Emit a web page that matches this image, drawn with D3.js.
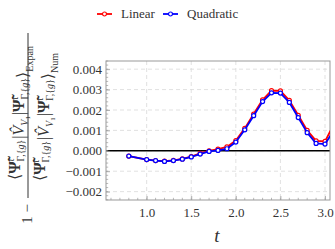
<!DOCTYPE html>
<html>
<head>
<meta charset="utf-8">
<script src="https://cdn.jsdelivr.net/npm/d3@7"></script>
<style>
  body { margin: 0; background: #fff; }
  svg { display: block; }
  svg text { font-family: "Liberation Serif", "Times New Roman", Tinos, "DejaVu Serif", "Noto Serif", serif !important; }
</style>
</head>
<body>
<svg id="chart" width="335" height="249"></svg>
<script>
// data
const tValues = [0.8, 1.0, 1.1, 1.2, 1.3, 1.4, 1.5, 1.6, 1.7, 1.8, 1.9, 2.0, 2.1, 2.2, 2.3, 2.4, 2.5, 2.6, 2.7, 2.8, 2.9, 3.0, 3.1]
const linearValues = [-0.00026, -0.00043, -0.00048, -0.00051, -0.00047, -0.0004, -0.00028, -0.00013, 0.0, 0.00008, 0.00019, 0.00050, 0.00110, 0.00180, 0.00250, 0.00295, 0.00294, 0.00247, 0.00174, 0.00100, 0.00049, 0.00046, 0.0013]
const quadraticValues = [-0.00026, -0.00043, -0.00048, -0.00052, -0.00048, -0.00041, -0.0003, -0.00016, -0.00003, 0.00002, 0.0001, 0.00043, 0.00103, 0.00172, 0.00241, 0.00284, 0.00283, 0.00237, 0.00163, 0.00089, 0.00036, 0.00033, 0.0010]
const xTicks = [1.0, 1.5, 2.0, 2.5, 3.0]
const yTicks = [-0.002, -0.001, 0.000, 0.001, 0.002, 0.003, 0.004]
const seriesNames = ['Linear', 'Quadratic']
const seriesColors = ['#ff0000', '#0000ff']

//chart globals
const margin = { top: 61, right: 5, bottom: 49, left: 106 }
const width = 335 - margin.left - margin.right
const height = 249 - margin.top - margin.bottom
const svg = d3.select('#chart')

const g = svg.append('g')
    .attr('transform', `translate(${margin.left}, ${margin.top})`)

//scales
const x = d3.scaleLinear()
    .domain([0.544, 3.056])
    .range([0, width])

const y = d3.scaleLinear()
    .domain([-0.00241, 0.0044])
    .range([height, 0])

//clip for lines leaving the frame
svg.append('defs').append('clipPath')
    .attr('id', 'clip')
    .append('rect')
    .attr('width', width)
    .attr('height', height)

//grid lines
g.append('g')
    .selectAll('line')
    .data(xTicks)
    .enter().append('line')
    .attr('x1', d => x(d)).attr('x2', d => x(d))
    .attr('y1', 0).attr('y2', height)
    .attr('stroke', '#d9d9d9')
    .attr('stroke-width', 0.8)
    .attr('stroke-dasharray', '4,3')

g.append('g')
    .selectAll('line')
    .data(yTicks)
    .enter().append('line')
    .attr('x1', 0).attr('x2', width)
    .attr('y1', d => y(d)).attr('y2', d => y(d))
    .attr('stroke', '#d9d9d9')
    .attr('stroke-width', 0.8)
    .attr('stroke-dasharray', '4,3')

//zero line
g.append('line')
    .attr('x1', 0).attr('x2', width)
    .attr('y1', y(0)).attr('y2', y(0))
    .attr('stroke', '#000')
    .attr('stroke-width', 1.6)

//axes (mathematica style inward ticks)
const minorX = d3.range(0.6, 3.05, 0.1)
const minorY = d3.range(-0.0024, 0.00441, 0.0002)

const xAxisCall = d3.axisBottom(x)
    .tickValues(xTicks)
    .tickFormat(d3.format('.1f'))
    .tickSize(-4)
    .tickPadding(8)

const yAxisCall = d3.axisLeft(y)
    .tickValues(yTicks)
    .tickFormat(d => d3.format('.3f')(d).replace('-', '\u2212'))
    .tickSize(-4)
    .tickPadding(4)

const xAxisGroup = g.append('g')
    .attr('class', 'x-axis')
    .attr('transform', `translate(0, ${height})`)
    .call(xAxisCall)

const yAxisGroup = g.append('g')
    .attr('class', 'y-axis')
    .call(yAxisCall)

xAxisGroup.append('g').selectAll('line')
    .data(minorX)
    .enter().append('line')
    .attr('x1', d => x(d)).attr('x2', d => x(d))
    .attr('y1', 0).attr('y2', -2.2)

yAxisGroup.append('g').selectAll('line')
    .data(minorY)
    .enter().append('line')
    .attr('y1', d => y(d)).attr('y2', d => y(d))
    .attr('x1', 0).attr('x2', 2.2)

svg.selectAll('.x-axis, .y-axis').attr('font-family', null)
svg.selectAll('.x-axis line, .y-axis line').attr('stroke', '#999').attr('stroke-width', 0.7)
svg.selectAll('.x-axis path, .y-axis path').remove()
svg.selectAll('.x-axis text, .y-axis text')
    .attr('font-size', '13px')
    .attr('fill', '#333')

//frame
g.append('rect')
    .attr('width', width)
    .attr('height', height)
    .attr('fill', 'none')
    .attr('stroke', '#999')
    .attr('stroke-width', 1)

//series
const allSeries = [linearValues, quadraticValues]

const line = d3.line()
    .x((d, i) => x(tValues[i]))
    .y(d => y(d))

const plot = g.append('g').attr('clip-path', 'url(#clip)')

allSeries.forEach((vals, k) => {
    plot.append('path')
        .datum(vals)
        .attr('fill', 'none')
        .attr('stroke', seriesColors[k])
        .attr('stroke-width', 1.8)
        .attr('stroke-linejoin', 'round')
        .attr('d', line)

    plot.selectAll(`.dot${k}`)
        .data(vals)
        .enter().append('circle')
        .attr('class', `dot${k}`)
        .attr('cx', (d, i) => x(tValues[i]))
        .attr('cy', d => y(d))
        .attr('r', 2)
        .attr('fill', '#fff')
        .attr('stroke', seriesColors[k])
        .attr('stroke-width', 1.2)
})

//legend
const legendX = [97, 163]
const legend = svg.append('g')
seriesNames.forEach((name, k) => {
    const lg = legend.append('g').attr('transform', `translate(${legendX[k]}, 14)`)
    lg.append('line')
        .attr('x1', 0).attr('x2', 15)
        .attr('stroke', seriesColors[k])
        .attr('stroke-width', 1.8)
    lg.append('circle')
        .attr('cx', 7.5).attr('r', 2)
        .attr('fill', '#fff')
        .attr('stroke', seriesColors[k])
        .attr('stroke-width', 1.2)
    lg.append('text')
        .attr('x', 24)
        .attr('y', 4)
        .attr('font-size', '13px')
        .attr('fill', '#333')
        .text(name)
})

//x-axis label
svg.append('text')
    .attr('x', 217)
    .attr('y', 242)
    .attr('text-anchor', 'middle')
    .attr('font-size', '19px')
    .attr('font-style', 'italic')
    .attr('fill', '#333')
    .text('t')

//y-axis label: 1 - <Psi|V|Psi>_Expan / <Psi|V|Psi>_Num
const yl = svg.append('g')
    .attr('transform', 'rotate(-90)')
    .attr('fill', '#333')

const braket = (sel, sub) => {
    const psi = () => {
        sel.append('tspan').attr('font-weight', 'bold').text('\u03A8\u0303')
        sel.append('tspan').attr('font-size', '10px').attr('font-style', 'italic').attr('dy', -6).text('t')
        sel.append('tspan').attr('font-size', '10px').attr('dx', -3).attr('dy', 10).text('\u0393,{')
        sel.append('tspan').attr('font-size', '10px').attr('font-style', 'italic').text('g')
        sel.append('tspan').attr('font-size', '10px').text('}')
        sel.append('tspan').attr('dy', -4).text('')
    }
    sel.append('tspan').text('\u27E8')
    psi()
    sel.append('tspan').attr('dx', 1).text('|')
    sel.append('tspan').attr('font-style', 'italic').text('V\u0302')
    sel.append('tspan').attr('font-size', '10px').attr('font-style', 'italic').attr('dy', 4).text('V')
    sel.append('tspan').attr('font-size', '7px').attr('dy', 2).text('1')
    sel.append('tspan').attr('dx', 1).attr('dy', -6).text('|')
    psi()
    sel.append('tspan').text('\u27E9')
    sel.append('tspan').attr('font-size', '10px').attr('dy', 5).text(sub)
}

const numer = yl.append('text')
    .attr('x', -113)
    .attr('y', 20)
    .attr('text-anchor', 'middle')
    .attr('font-size', '16px')
braket(numer, 'Expan')

const denom = yl.append('text')
    .attr('x', -117)
    .attr('y', 45)
    .attr('text-anchor', 'middle')
    .attr('font-size', '16px')
braket(denom, 'Num')

yl.append('line')
    .attr('x1', -198).attr('x2', -33)
    .attr('y1', 28).attr('y2', 28)
    .attr('stroke', '#333')
    .attr('stroke-width', 1)

yl.append('text')
    .attr('x', -214)
    .attr('y', 32)
    .attr('text-anchor', 'middle')
    .attr('font-size', '15px')
    .text('1 \u2212')
</script>
</body>
</html>
